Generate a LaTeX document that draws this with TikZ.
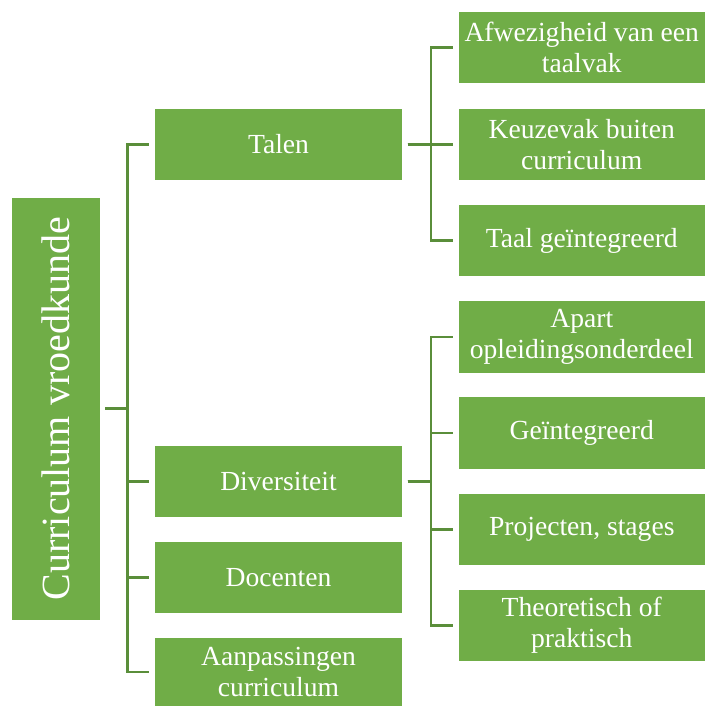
\documentclass[tikz,border=0pt]{standalone}
\usepackage{fontspec}
\setmainfont{Liberation Serif}
\usepackage{xcolor}
\usetikzlibrary{positioning, calc}
\definecolor{leaf}{HTML}{70AD47}
\definecolor{leafdark}{HTML}{5A8E3A}

\begin{document}
\begin{tikzpicture}[x=0.5pt, y=-0.5pt,
        box/.style={rectangle, fill=leaf, draw=white, line width=0.6pt,
                    text=white, align=center, inner sep=2pt},
        rootbox/.style={box, rotate=90, minimum width=211.75pt, minimum height=44.75pt,
                    font=\fontsize{20}{24}\selectfont},
        catbox/.style={box, minimum width=124.5pt, minimum height=36.5pt,
                    font=\fontsize{13.8}{15.5}\selectfont},
        subbox/.style={box, minimum width=123.75pt, minimum height=36.5pt,
                    font=\fontsize{13.8}{15.5}\selectfont},
        link/.style={draw=leafdark, line width=1.3pt, shorten <=2pt, shorten >=2pt}
      ]
        \useasboundingbox (0,0) rectangle (706,707);

        \node[rootbox] (root) at (55.75,408.75) {Curriculum vroedkunde};

        \node[catbox] (talen) at (278.5,144.5) {Talen};
        \node[catbox] (divers) at (278.5,481.5) {Diversiteit};
        \node[catbox] (docent) at (278.5,577.5) {Docenten};
        \node[catbox, minimum height=35pt] (aanpas) at (278.5,672) {Aanpassingen\\curriculum};

        \node[subbox] (afw) at (581.75,47.5) {Afwezigheid van een\\taalvak};
        \node[subbox] (keuze) at (581.75,144.5) {Keuzevak buiten\\curriculum};
        \node[subbox] (taalint) at (581.75,240.5) {Taal geïntegreerd};
        \node[subbox] (apart) at (581.75,337) {Apart\\opleidingsonderdeel};
        \node[subbox] (geint) at (581.75,433) {Geïntegreerd};
        \node[subbox] (proj) at (581.75,529.5) {Projecten, stages};
        \node[subbox] (theo) at (581.75,625.5) {Theoretisch of\\praktisch};

        \foreach \n in {talen,divers,docent,aanpas}
          \draw[link] (root.south) -- ++(26.5,0) |- (\n.west);
        \foreach \n in {afw,keuze,taalint}
          \draw[link] (talen.east) -- ++(27.5,0) |- (\n.west);
        \foreach \n in {apart,geint,proj,theo}
          \draw[link] (divers.east) -- ++(27.5,0) |- (\n.west);
      \end{tikzpicture}
\end{document}
